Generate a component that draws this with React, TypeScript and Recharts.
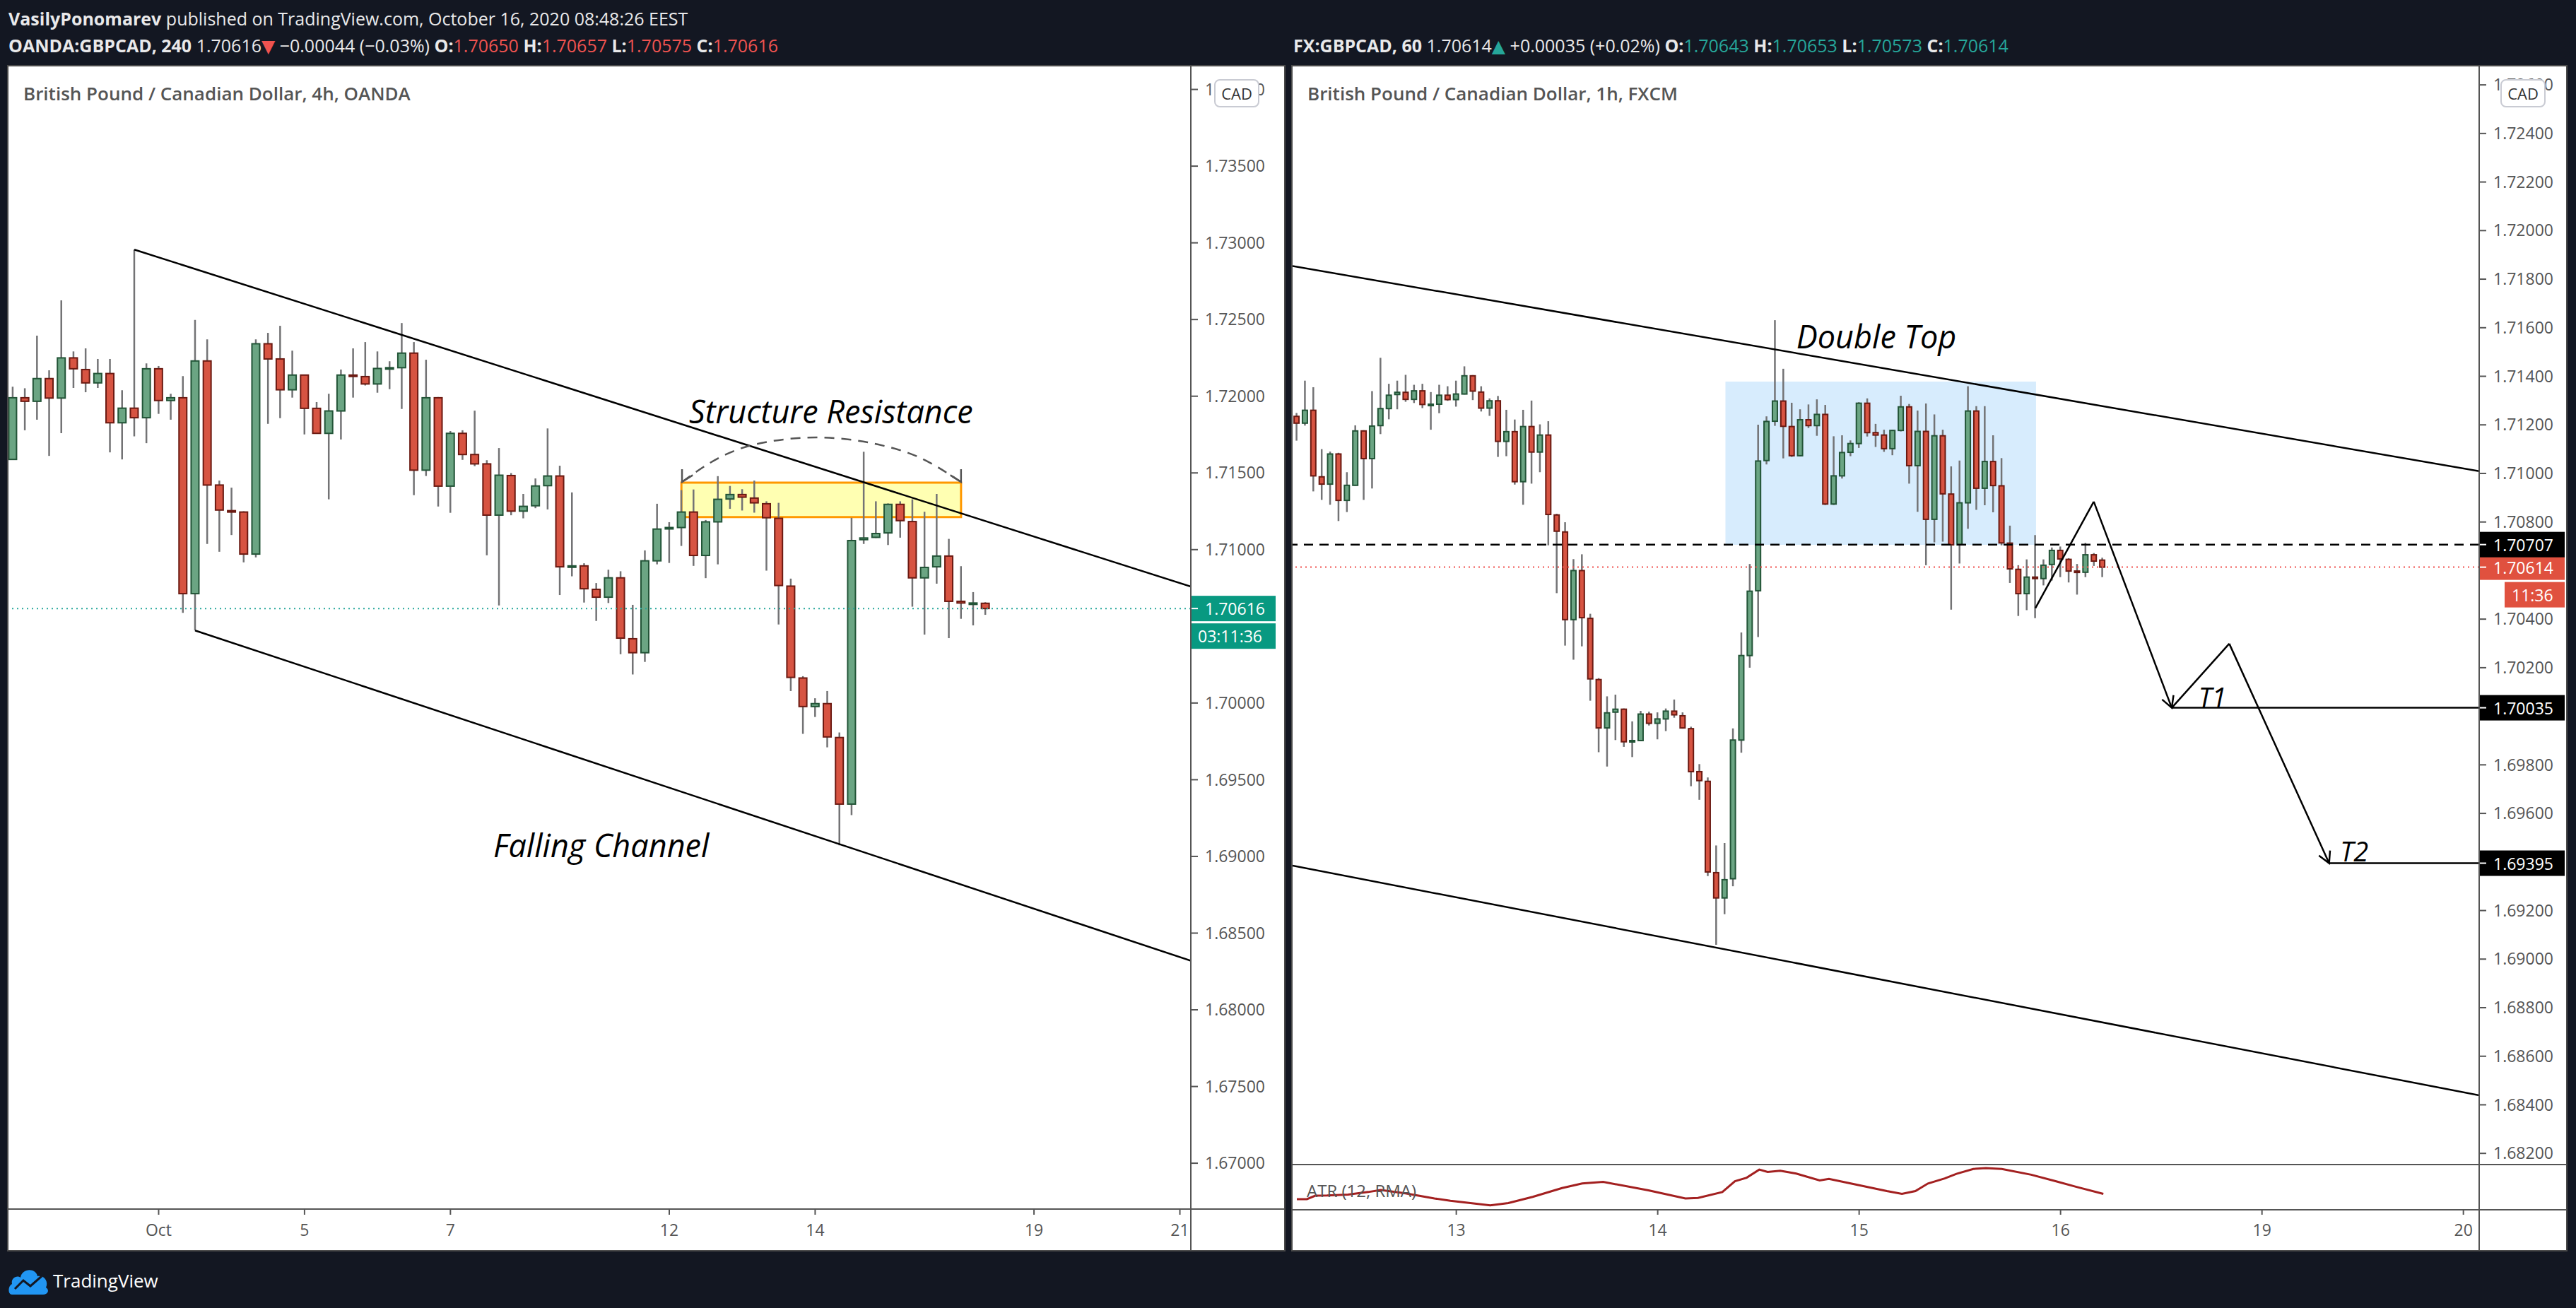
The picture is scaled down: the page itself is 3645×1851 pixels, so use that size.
import { ComposedChart, Bar, Line, XAxis, YAxis, ReferenceLine, ReferenceArea, ReferenceDot } from 'recharts'

const FONT = '"Open Sans", "DejaVu Sans", sans-serif'
const UP = '#6ba583'
const UP_EDGE = '#225437'
const DOWN = '#d75442'
const DOWN_EDGE = '#6b1a12'
const WICK = '#737375'
const AXIS_TEXT = '#555'
const RED = '#ef5350'
const TEAL = '#26a69a'

// ---- left chart: GBPCAD 4h (OANDA) ----
const leftOpen = [
  1.71588, 1.7199, 1.71967, 1.72115, 1.71988, 1.7225, 1.72174, 1.72087, 1.72148, 1.71827,
  1.71922, 1.7186, 1.72179, 1.71972, 1.7199, 1.70713, 1.7223, 1.71421, 1.71254, 1.71245,
  1.70971, 1.72342, 1.72243, 1.72042, 1.72138, 1.71921, 1.71758, 1.71904, 1.72138, 1.72128,
  1.7208, 1.72181, 1.72186, 1.72281, 1.71518, 1.7199, 1.71414, 1.71758, 1.7162, 1.71559,
  1.71225, 1.71483, 1.71251, 1.71286, 1.71417, 1.7148, 1.70888, 1.70894, 1.70741, 1.7069,
  1.70816, 1.70419, 1.70328, 1.70927, 1.71136, 1.71144, 1.71245, 1.70962, 1.71181, 1.7133,
  1.71359, 1.71336, 1.71299, 1.71204, 1.70762, 1.70163, 1.69977, 1.69996, 1.69775, 1.69341,
  1.71065, 1.7108, 1.71109, 1.71295, 1.71183, 1.70816, 1.70888, 1.70958, 1.70663, 1.70646,
  1.7065,
]
const leftHigh = [
  1.72062, 1.72052, 1.72395, 1.72169, 1.72625, 1.72292, 1.72312, 1.72243, 1.72243, 1.72039,
  1.72956, 1.72214, 1.72197, 1.72016, 1.72131, 1.72497, 1.72371, 1.7145, 1.71404, 1.7125,
  1.72371, 1.72413, 1.72459, 1.72297, 1.7214, 1.71962, 1.72016, 1.72174, 1.72312, 1.72353,
  1.72292, 1.72228, 1.72477, 1.72353, 1.72238, 1.71995, 1.71773, 1.71778, 1.71906, 1.71583,
  1.71662, 1.71499, 1.71363, 1.71464, 1.7179, 1.71547, 1.71373, 1.70911, 1.70782, 1.70869,
  1.70859, 1.7064, 1.70995, 1.71299, 1.71179, 1.71388, 1.71392, 1.71193, 1.71479, 1.71415,
  1.71394, 1.7145, 1.71315, 1.71305, 1.70811, 1.70175, 1.70031, 1.70078, 1.69808, 1.71208,
  1.71638, 1.71315, 1.71301, 1.71315, 1.71328, 1.71247, 1.71363, 1.7107, 1.70892, 1.70723,
  1.70657,
]
const leftLow = [
  1.71585, 1.71778, 1.71847, 1.71611, 1.71759, 1.72054, 1.72026, 1.72054, 1.71634, 1.71588,
  1.71738, 1.71694, 1.71885, 1.71847, 1.70588, 1.70473, 1.71037, 1.70986, 1.71095, 1.70917,
  1.7095, 1.7182, 1.71857, 1.71991, 1.71751, 1.71755, 1.71328, 1.71718, 1.71991, 1.7207,
  1.72023, 1.72046, 1.71917, 1.71355, 1.7148, 1.71281, 1.7124, 1.71585, 1.71544, 1.70963,
  1.70636, 1.71224, 1.71204, 1.7127, 1.71262, 1.70704, 1.70826, 1.70655, 1.70535, 1.70652,
  1.70318, 1.70186, 1.70268, 1.70904, 1.70913, 1.71024, 1.70894, 1.70814, 1.70904, 1.71266,
  1.71255, 1.71241, 1.70863, 1.70512, 1.70078, 1.69799, 1.69909, 1.69711, 1.69072, 1.69269,
  1.71037, 1.71076, 1.7103, 1.71078, 1.70628, 1.70446, 1.70778, 1.70423, 1.70549, 1.70506,
  1.70575,
]
const leftClose = [
  1.7199, 1.71967, 1.72115, 1.71988, 1.7225, 1.72179, 1.72087, 1.72148, 1.71827, 1.71922,
  1.7186, 1.72179, 1.71972, 1.7199, 1.70713, 1.7223, 1.71421, 1.71258, 1.71246, 1.70971,
  1.72342, 1.72243, 1.72042, 1.72138, 1.71921, 1.71758, 1.71904, 1.72138, 1.7213, 1.7208,
  1.72181, 1.72186, 1.72281, 1.71518, 1.7199, 1.71414, 1.71758, 1.7162, 1.71559, 1.71225,
  1.71485, 1.71251, 1.71282, 1.71415, 1.7148, 1.70888, 1.70894, 1.70745, 1.7069, 1.70816,
  1.70423, 1.70328, 1.70927, 1.71134, 1.71144, 1.71245, 1.70962, 1.71181, 1.71328, 1.71359,
  1.71342, 1.71305, 1.71208, 1.70766, 1.70167, 1.69977, 1.69996, 1.69779, 1.69341, 1.71059,
  1.71076, 1.71105, 1.71295, 1.71189, 1.70816, 1.70884, 1.70958, 1.70663, 1.70652, 1.70652,
  1.70616,
]
const leftTickIdx = [12, 24, 36, 54, 66, 84, 96]
const leftTickLabels = ['Oct', '5', '7', '12', '14', '19', '21']
// 1.705 sits behind the last-price tag, so it is not listed
const leftPriceTicks = [
  1.67, 1.675, 1.68, 1.685, 1.69, 1.695, 1.7, 1.71, 1.715, 1.72, 1.725, 1.73, 1.735, 1.74,
]
const leftArc = [
  { i: 55.05, p: 1.71441 },
  { i: 58.3, p: 1.71607 },
  { i: 61.0, p: 1.71685 },
  { i: 66.1, p: 1.71731 },
  { i: 71.2, p: 1.71685 },
  { i: 74.4, p: 1.71607 },
  { i: 78.0, p: 1.71441 },
]

// ---- right chart: GBPCAD 1h (FXCM) ----
const rightOpen = [
  1.71235, 1.71207, 1.7126, 1.70986, 1.70956, 1.7108, 1.70889, 1.70951, 1.71175, 1.71061,
  1.71197, 1.71267, 1.71325, 1.71334, 1.71305, 1.7134, 1.71282, 1.71285, 1.71322, 1.71304,
  1.71327, 1.71402, 1.71335, 1.71269, 1.71299, 1.71132, 1.71172, 1.70966, 1.71193, 1.71088,
  1.71158, 1.70829, 1.70759, 1.70398, 1.706, 1.70403, 1.70151, 1.69952, 1.70017, 1.70029,
  1.69895, 1.699, 1.70009, 1.69971, 1.69989, 1.70021, 1.70002, 1.69949, 1.69772, 1.69732,
  1.69356, 1.69252, 1.69331, 1.69902, 1.7025, 1.70517, 1.71053, 1.71215, 1.71298, 1.71193,
  1.71073, 1.71221, 1.71197, 1.71243, 1.70874, 1.7099, 1.71087, 1.71123, 1.71289, 1.71168,
  1.71158, 1.71102, 1.71177, 1.71274, 1.71032, 1.71173, 1.70811, 1.71155, 1.70915, 1.70706,
  1.70879, 1.71257, 1.70939, 1.71049, 1.70949, 1.70713, 1.70605, 1.70505, 1.70573, 1.70567,
  1.70625, 1.70683, 1.70646, 1.70598, 1.70593, 1.70665, 1.70643,
]
const rightHigh = [
  1.71249, 1.71382, 1.71355, 1.711, 1.7109, 1.71085, 1.71005, 1.71198, 1.71178, 1.71339,
  1.71476, 1.71369, 1.71382, 1.71406, 1.71365, 1.71369, 1.71335, 1.71365, 1.71359, 1.71382,
  1.71441, 1.71405, 1.71359, 1.71309, 1.71319, 1.71262, 1.71222, 1.71262, 1.713, 1.71202,
  1.71215, 1.70834, 1.70799, 1.70647, 1.70667, 1.70422, 1.70157, 1.70082, 1.70089, 1.70032,
  1.69979, 1.70022, 1.70019, 1.70016, 1.70032, 1.70069, 1.70016, 1.69957, 1.69803, 1.69748,
  1.69468, 1.69478, 1.6995, 1.70345, 1.70627, 1.71201, 1.71235, 1.71631, 1.71431, 1.71291,
  1.71264, 1.71284, 1.71305, 1.71282, 1.71153, 1.71157, 1.71136, 1.71293, 1.71309, 1.71204,
  1.7118, 1.7118, 1.7132, 1.71286, 1.71259, 1.71288, 1.71243, 1.7118, 1.71029, 1.71053,
  1.71359, 1.71277, 1.71277, 1.71157, 1.71063, 1.70785, 1.70622, 1.70646, 1.70746, 1.70646,
  1.70695, 1.70699, 1.70651, 1.70627, 1.70714, 1.70672, 1.70653,
]
const rightLow = [
  1.71135, 1.71197, 1.70926, 1.70891, 1.70871, 1.70804, 1.70841, 1.70949, 1.70891, 1.70938,
  1.71162, 1.71223, 1.71264, 1.71295, 1.7129, 1.71269, 1.7118, 1.71248, 1.71299, 1.71275,
  1.71325, 1.71302, 1.71255, 1.71237, 1.71068, 1.71071, 1.70954, 1.70871, 1.70958, 1.71005,
  1.70704, 1.70507, 1.70291, 1.70233, 1.70288, 1.70064, 1.69852, 1.69793, 1.69902, 1.69874,
  1.69832, 1.69898, 1.69962, 1.69905, 1.69939, 1.69994, 1.69949, 1.69712, 1.69656, 1.69342,
  1.69059, 1.69185, 1.693, 1.6985, 1.702, 1.70326, 1.71037, 1.71196, 1.71062, 1.71068,
  1.7107, 1.71187, 1.71155, 1.7087, 1.7087, 1.70979, 1.71071, 1.71105, 1.71152, 1.71109,
  1.71089, 1.71075, 1.71173, 1.70958, 1.70842, 1.70622, 1.70716, 1.70719, 1.70439, 1.70629,
  1.70772, 1.7085, 1.70869, 1.7084, 1.70704, 1.70549, 1.70413, 1.70437, 1.70404, 1.70539,
  1.70559, 1.70573, 1.70551, 1.70501, 1.70573, 1.70619, 1.70573,
]
const rightClose = [
  1.71207, 1.7126, 1.7099, 1.70956, 1.7108, 1.70889, 1.70951, 1.71175, 1.71061, 1.71195,
  1.71267, 1.71322, 1.71334, 1.71305, 1.7134, 1.71284, 1.71285, 1.71322, 1.71304, 1.71327,
  1.71402, 1.71339, 1.71269, 1.71299, 1.71132, 1.71172, 1.70966, 1.71193, 1.71088, 1.71158,
  1.70831, 1.70762, 1.70398, 1.706, 1.70406, 1.70154, 1.69952, 1.70014, 1.70029, 1.69895,
  1.699, 1.70009, 1.69971, 1.69989, 1.70021, 1.70006, 1.69952, 1.69772, 1.69735, 1.69359,
  1.69252, 1.69327, 1.69902, 1.7025, 1.70515, 1.71051, 1.71214, 1.71298, 1.71194, 1.71073,
  1.71221, 1.71197, 1.71243, 1.70874, 1.7099, 1.71086, 1.71123, 1.71289, 1.71168, 1.71158,
  1.71102, 1.71177, 1.71274, 1.71032, 1.71173, 1.70811, 1.71155, 1.70916, 1.70706, 1.70879,
  1.71257, 1.70939, 1.71049, 1.7095, 1.70714, 1.70607, 1.70505, 1.70573, 1.70567, 1.70622,
  1.70683, 1.70648, 1.70598, 1.70593, 1.70665, 1.70639, 1.70614,
]
const rightTickIdx = [19, 43, 67, 91, 115, 139]
const rightTickLabels = ['13', '14', '15', '16', '19', '20']
// 1.694 / 1.700 / 1.706 are hidden behind the price tags
const rightPriceTicks = [
  1.682, 1.684, 1.686, 1.688, 1.69, 1.692, 1.696, 1.698, 1.702, 1.704,
  1.708, 1.71, 1.712, 1.714, 1.716, 1.718, 1.72, 1.722, 1.724, 1.726,
]
const atrIdx = [
  0, 1.2, 2.2, 3.6, 6.1, 8.5, 10, 12.95, 16.4, 18.3, 23.05, 25.2, 28.1, 31.6, 34, 36.5,
  41.9, 46.3, 47.8, 50.7, 52.2, 53.6, 55.1, 56.1, 57.6, 59.5, 62.3, 63.4, 66.4, 70.3, 72.1,
  73.7, 75.2, 77.2, 78.6, 80.6, 82.1, 84, 87.5, 90.4, 92.9, 96.1,
]
const atrVal = [
  0.001156, 0.001156, 0.001281, 0.001289, 0.001322, 0.001413, 0.001488, 0.001364, 0.001181,
  0.001098, 0.000933, 0.001016, 0.001239, 0.001554, 0.00172, 0.001778, 0.001471, 0.001181,
  0.001198, 0.001413, 0.001803, 0.001927, 0.002218, 0.002135, 0.002176, 0.002077, 0.001828,
  0.001886, 0.001695, 0.001447, 0.001347, 0.001447, 0.00172, 0.001903, 0.002068, 0.002242,
  0.002276, 0.002242, 0.002035, 0.001803, 0.001596, 0.001347,
]

const LEFT_X: [number, number] = [-0.35, 96.9]
const LEFT_Y: [number, number] = [1.66701, 1.7415]
const RIGHT_X: [number, number] = [-0.505, 140.88]
const RIGHT_Y: [number, number] = [1.68154, 1.72676]

type Candle = { i: number; o: number; h: number; l: number; c: number }

function toCandles(o: number[], h: number[], l: number[], c: number[]): Candle[] {
  return o.map((v, i) => ({ i, o: v, h: h[i], l: l[i], c: c[i] }))
}

const leftData = toCandles(leftOpen, leftHigh, leftLow, leftClose)
const rightData = toCandles(rightOpen, rightHigh, rightLow, rightClose)
const atrData = atrIdx.map((i, k) => ({ i, v: atrVal[k] }))

function CandleShape(props: any) {
  const { x, y, width, height, payload } = props
  if (x == null || y == null || !payload) return null
  const top = Math.min(y, y + height)
  const span = Math.abs(height)
  const { o, c, h, l } = payload as Candle
  const ppu = h > l ? span / (h - l) : 0
  const bodyTop = top + (h - Math.max(o, c)) * ppu
  const bodyH = Math.max(Math.abs(o - c) * ppu, 2)
  const up = c >= o
  const cx = x + width / 2
  return (
    <g>
      <line x1={cx} x2={cx} y1={top} y2={top + span} stroke={WICK} strokeWidth={2.5} />
      <rect
        x={x + 1}
        y={bodyTop}
        width={Math.max(width - 2, 1)}
        height={bodyH}
        fill={up ? UP : DOWN}
        stroke={up ? UP_EDGE : DOWN_EDGE}
        strokeWidth={2}
      />
    </g>
  )
}

// segment with optional arrow head at the second point
function segShape(color: string, arrow: boolean, drawLine = true, dash?: string) {
  return (p: any) => {
    const { x1, y1, x2, y2 } = p
    if (x1 == null) return <g />
    const a = Math.atan2(y2 - y1, x2 - x1)
    const len = 18
    const ax1 = x2 - len * Math.cos(a - 0.5)
    const ay1 = y2 - len * Math.sin(a - 0.5)
    const ax2 = x2 - len * Math.cos(a + 0.5)
    const ay2 = y2 - len * Math.sin(a + 0.5)
    return (
      <g clipPath={p.clipPath}>
        {drawLine && (
          <line x1={x1} y1={y1} x2={x2} y2={y2} stroke={color} strokeWidth={2.5} strokeDasharray={dash} />
        )}
        {arrow && (
          <path d={`M${ax1},${ay1}L${x2},${y2}L${ax2},${ay2}`} fill="none" stroke={color} strokeWidth={2.5} />
        )}
      </g>
    )
  }
}

function textLabel(text: string, size: number) {
  return (p: any) => {
    const vb = p.viewBox
    return (
      <text
        x={vb.x + vb.width / 2}
        y={vb.y + vb.height / 2}
        textAnchor="middle"
        dominantBaseline="central"
        fontFamily={FONT}
        fontStyle="italic"
        fontSize={size}
        fill="#000"
      >
        {text}
      </text>
    )
  }
}

function priceTag(text: string, bg: string, w: number, sub?: string, subW?: number) {
  return (p: any) => {
    const vb = p.viewBox
    const x = vb.x + vb.width
    const y = vb.y
    const sw = subW ?? w
    return (
      <g>
        <rect x={x} y={y - 18} width={w} height={36} fill={bg} />
        <line x1={x} x2={x + 10} y1={y} y2={y} stroke="#fff" strokeWidth={2} />
        <text x={x + 20} y={y} dominantBaseline="central" fontFamily={FONT} fontSize={23} fill="#fff">
          {text}
        </text>
        {sub && (
          <g>
            <rect x={x + w - sw} y={y + 21} width={sw} height={36} fill={bg} />
            <text x={x + w - sw + 10} y={y + 39} dominantBaseline="central" fontFamily={FONT} fontSize={23} fill="#fff">
              {sub}
            </text>
          </g>
        )}
      </g>
    )
  }
}

const tickStyle = { fill: AXIS_TEXT, fontSize: 23, fontFamily: FONT }

function CadBadge({ left }: { left: number }) {
  return (
    <div
      style={{
        position: 'absolute',
        left,
        top: 112,
        width: 60,
        height: 36,
        border: '2px solid #c9cbd3',
        borderRadius: 8,
        background: '#fff',
        color: '#333',
        font: `22px ${FONT}`,
        lineHeight: '36px',
        textAlign: 'center',
      }}
    >
      CAD
    </div>
  )
}

function LeftChart() {
  return (
    <ComposedChart width={1805} height={1675} data={leftData} margin={{ top: 0, right: 0, bottom: 0, left: 0 }}>
      <XAxis
        type="number"
        dataKey="i"
        domain={LEFT_X}
        allowDataOverflow
        ticks={leftTickIdx}
        interval={0}
        tickFormatter={(v: number) => leftTickLabels[leftTickIdx.indexOf(v)] ?? ''}
        height={58}
        axisLine={false}
        tickSize={8}
        tickMargin={14}
        tickLine={{ stroke: AXIS_TEXT, strokeWidth: 2 }}
        tick={tickStyle}
      />
      <YAxis
        orientation="right"
        type="number"
        domain={LEFT_Y}
        allowDataOverflow
        ticks={leftPriceTicks}
        interval={0}
        width={132}
        axisLine={false}
        tickSize={10}
        tickMargin={10}
        tickLine={{ stroke: AXIS_TEXT, strokeWidth: 2 }}
        tick={tickStyle}
        tickFormatter={(v: number) => v.toFixed(5)}
      />
      <ReferenceLine
        y={1.70616}
        stroke={TEAL}
        strokeWidth={2}
        strokeDasharray="2 5"
        label={priceTag('1.70616', '#089981', 120, '03:11:36', 120)}
      />
      <Bar dataKey={(d: Candle) => [d.l, d.h]} barSize={13} shape={CandleShape} isAnimationActive={false} />
      <ReferenceLine
        segment={[{ x: 10, y: 1.72956 }, { x: 96.9, y: 1.70759 }]}
        ifOverflow="hidden"
        shape={segShape('#000', false)}
      />
      <ReferenceLine
        segment={[{ x: 15, y: 1.70473 }, { x: 96.9, y: 1.6832 }]}
        ifOverflow="hidden"
        shape={segShape('#000', false)}
      />
      <ReferenceArea
        x1={55.0}
        x2={78.0}
        y1={1.71212}
        y2={1.71437}
        fill="#ffff55"
        fillOpacity={0.45}
        stroke="#ff9800"
        strokeWidth={3}
        strokeOpacity={1}
      />
      <ReferenceLine segment={[{ x: 55.7, y: 1.71535 }, { x: 55.05, y: 1.71441 }]} shape={segShape('#555', true, false)} />
      <ReferenceLine segment={[{ x: 77.35, y: 1.71535 }, { x: 78.0, y: 1.71441 }]} shape={segShape('#555', true, false)} />
      <ReferenceDot x={67.3} y={1.71906} r={0} fill="none" stroke="none" label={textLabel('Structure Resistance', 45)} />
      <ReferenceDot x={48.4} y={1.69078} r={0} fill="none" stroke="none" label={textLabel('Falling Channel', 45)} />
    </ComposedChart>
  )
}

// the dashed arc lives on its own transparent layer so it does not squeeze the candle width
function LeftArcLayer() {
  return (
    <ComposedChart width={1805} height={1675} data={leftArc} margin={{ top: 0, right: 0, bottom: 0, left: 0 }}>
      <XAxis type="number" dataKey="i" domain={LEFT_X} allowDataOverflow height={58} tick={false} tickLine={false} axisLine={false} />
      <YAxis orientation="right" type="number" domain={LEFT_Y} allowDataOverflow width={132} tick={false} tickLine={false} axisLine={false} />
      <Line dataKey="p" type="monotone" stroke="#555" strokeWidth={2.5} strokeDasharray="14 10" dot={false} isAnimationActive={false} />
    </ComposedChart>
  )
}

function RightChart() {
  return (
    <ComposedChart width={1802} height={1554} data={rightData} margin={{ top: 0, right: 0, bottom: 0, left: 0 }}>
      <XAxis type="number" dataKey="i" domain={RIGHT_X} allowDataOverflow hide />
      <YAxis
        orientation="right"
        type="number"
        domain={RIGHT_Y}
        allowDataOverflow
        ticks={rightPriceTicks}
        interval={0}
        width={123}
        axisLine={false}
        tickSize={10}
        tickMargin={10}
        tickLine={{ stroke: AXIS_TEXT, strokeWidth: 2 }}
        tick={tickStyle}
        tickFormatter={(v: number) => v.toFixed(5)}
      />
      <ReferenceArea x1={51.07} x2={88.08} y1={1.70706} y2={1.71378} fill="#2196f3" fillOpacity={0.18} stroke="none" />
      <ReferenceLine
        y={1.70614}
        stroke={RED}
        strokeWidth={2}
        strokeDasharray="2 5"
        label={priceTag('1.70614', '#e0513f', 121, '11:36', 85)}
      />
      <ReferenceLine y={1.70707} stroke="#000" strokeWidth={2.5} strokeDasharray="13 9" label={priceTag('1.70707', '#000', 121)} />
      <Bar dataKey={(d: Candle) => [d.l, d.h]} barSize={9} shape={CandleShape} isAnimationActive={false} />
      <ReferenceLine
        segment={[{ x: -0.505, y: 1.71854 }, { x: 140.88, y: 1.71009 }]}
        ifOverflow="hidden"
        shape={segShape('#000', false)}
      />
      <ReferenceLine
        segment={[{ x: -0.505, y: 1.69385 }, { x: 140.88, y: 1.68439 }]}
        ifOverflow="hidden"
        shape={segShape('#000', false)}
      />
      <ReferenceLine segment={[{ x: 88.0, y: 1.70445 }, { x: 94.96, y: 1.70884 }]} shape={segShape('#000', false)} />
      <ReferenceLine segment={[{ x: 94.96, y: 1.70884 }, { x: 104.25, y: 1.70035 }]} shape={segShape('#000', true)} />
      <ReferenceLine segment={[{ x: 104.25, y: 1.70035 }, { x: 111.1, y: 1.70299 }]} shape={segShape('#000', false)} />
      <ReferenceLine segment={[{ x: 111.1, y: 1.70299 }, { x: 123.0, y: 1.69395 }]} shape={segShape('#000', true)} />
      <ReferenceLine
        segment={[{ x: 104.25, y: 1.70035 }, { x: 140.88, y: 1.70035 }]}
        ifOverflow="hidden"
        shape={segShape('#000', false)}
        label={priceTag('1.70035', '#000', 121)}
      />
      <ReferenceLine
        segment={[{ x: 123.0, y: 1.69395 }, { x: 140.88, y: 1.69395 }]}
        ifOverflow="hidden"
        shape={segShape('#000', false)}
        label={priceTag('1.69395', '#000', 121)}
      />
      <ReferenceDot x={69.05} y={1.71565} r={0} fill="none" stroke="none" label={textLabel('Double Top', 45)} />
      <ReferenceDot x={109.1} y={1.7008} r={0} fill="none" stroke="none" label={textLabel('T1', 38)} />
      <ReferenceDot x={126.0} y={1.69446} r={0} fill="none" stroke="none" label={textLabel('T2', 38)} />
    </ComposedChart>
  )
}

function AtrChart() {
  return (
    <ComposedChart width={1802} height={121} data={atrData} margin={{ top: 0, right: 0, bottom: 0, left: 0 }}>
      <XAxis
        type="number"
        dataKey="i"
        domain={RIGHT_X}
        allowDataOverflow
        ticks={rightTickIdx}
        interval={0}
        tickFormatter={(v: number) => rightTickLabels[rightTickIdx.indexOf(v)] ?? ''}
        height={58}
        axisLine={false}
        tickSize={8}
        tickMargin={14}
        tickLine={{ stroke: AXIS_TEXT, strokeWidth: 2 }}
        tick={tickStyle}
      />
      <YAxis orientation="right" type="number" domain={[0.0008, 0.0024]} allowDataOverflow width={123} axisLine={false} tick={false} tickLine={false} />
      <Line dataKey="v" type="linear" stroke="#a32020" strokeWidth={3} dot={false} isAnimationActive={false} />
    </ComposedChart>
  )
}

function Logo() {
  return (
    <div style={{ position: 'absolute', left: 11, top: 1790, display: 'flex', alignItems: 'center' }}>
      <svg width={60} height={44} viewBox="0 0 60 44">
        <path
          d="M6 42 C0 42 0 30 6 27 C4 18 14 14 18 18 C20 4 40 4 42 16 C52 14 58 24 54 32 C60 36 56 42 50 42 Z"
          fill="#2196f3"
        />
        <path d="M10 34 L22 22 L32 30 L48 16" fill="none" stroke="#131722" strokeWidth={3} />
      </svg>
      <span style={{ color: '#fff', font: `26px ${FONT}`, marginLeft: 4 }}>TradingView</span>
    </div>
  )
}

export default function App() {
  const hdr = { position: 'absolute' as const, color: '#e9e9ea', font: `25px ${FONT}`, whiteSpace: 'nowrap' as const }
  const title = { position: 'absolute' as const, color: '#555', font: `600 26px ${FONT}`, whiteSpace: 'nowrap' as const }
  return (
    <div style={{ position: 'absolute', left: 0, top: 0, width: 3645, height: 1851, background: '#131722', overflow: 'hidden' }}>
      <div style={{ ...hdr, left: 12, top: 9 }}>
        <b>VasilyPonomarev</b> published on TradingView.com, October 16, 2020 08:48:26 EEST
      </div>
      <div style={{ ...hdr, left: 12, top: 47 }}>
        <b>OANDA:GBPCAD, 240</b> 1.70616<span style={{ color: RED }}>▼</span> −0.00044 (−0.03%) <b>O:</b>
        <span style={{ color: RED }}>1.70650</span> <b>H:</b>
        <span style={{ color: RED }}>1.70657</span> <b>L:</b>
        <span style={{ color: RED }}>1.70575</span> <b>C:</b>
        <span style={{ color: RED }}>1.70616</span>
      </div>
      <div style={{ ...hdr, left: 1830, top: 47 }}>
        <b>FX:GBPCAD, 60</b> 1.70614<span style={{ color: TEAL }}>▲</span> +0.00035 (+0.02%) <b>O:</b>
        <span style={{ color: TEAL }}>1.70643</span> <b>H:</b>
        <span style={{ color: TEAL }}>1.70653</span> <b>L:</b>
        <span style={{ color: TEAL }}>1.70573</span> <b>C:</b>
        <span style={{ color: TEAL }}>1.70614</span>
      </div>

      {/* left panel */}
      <div style={{ position: 'absolute', left: 10, top: 92, width: 1805, height: 1675, border: '2px solid #4a4a4a', background: '#fff' }} />
      <div style={{ position: 'absolute', left: 12, top: 94 }}>
        <LeftChart />
      </div>
      <div style={{ position: 'absolute', left: 12, top: 94, pointerEvents: 'none' }}>
        <LeftArcLayer />
      </div>
      <div style={{ position: 'absolute', left: 1684, top: 94, width: 2, height: 1675, background: '#555' }} />
      <div style={{ position: 'absolute', left: 12, top: 1710, width: 1805, height: 2, background: '#555' }} />
      <div style={{ ...title, left: 33, top: 114 }}>British Pound / Canadian Dollar, 4h, OANDA</div>
      <CadBadge left={1718} />

      {/* right panel */}
      <div style={{ position: 'absolute', left: 1827, top: 92, width: 1802, height: 1675, border: '2px solid #4a4a4a', background: '#fff' }} />
      <div style={{ position: 'absolute', left: 1829, top: 94 }}>
        <RightChart />
      </div>
      <div style={{ position: 'absolute', left: 1829, top: 1648 }}>
        <AtrChart />
      </div>
      <div style={{ position: 'absolute', left: 3507, top: 94, width: 2, height: 1675, background: '#555' }} />
      <div style={{ position: 'absolute', left: 1829, top: 1647, width: 1802, height: 2, background: '#555' }} />
      <div style={{ position: 'absolute', left: 1829, top: 1711, width: 1802, height: 2, background: '#555' }} />
      <div style={{ ...title, left: 1850, top: 114 }}>British Pound / Canadian Dollar, 1h, FXCM</div>
      <div style={{ position: 'absolute', left: 1849, top: 1668, color: '#555', font: `24px ${FONT}`, whiteSpace: 'nowrap' }}>
        ATR (12, RMA)
      </div>
      <CadBadge left={3538} />

      <Logo />
    </div>
  )
}
